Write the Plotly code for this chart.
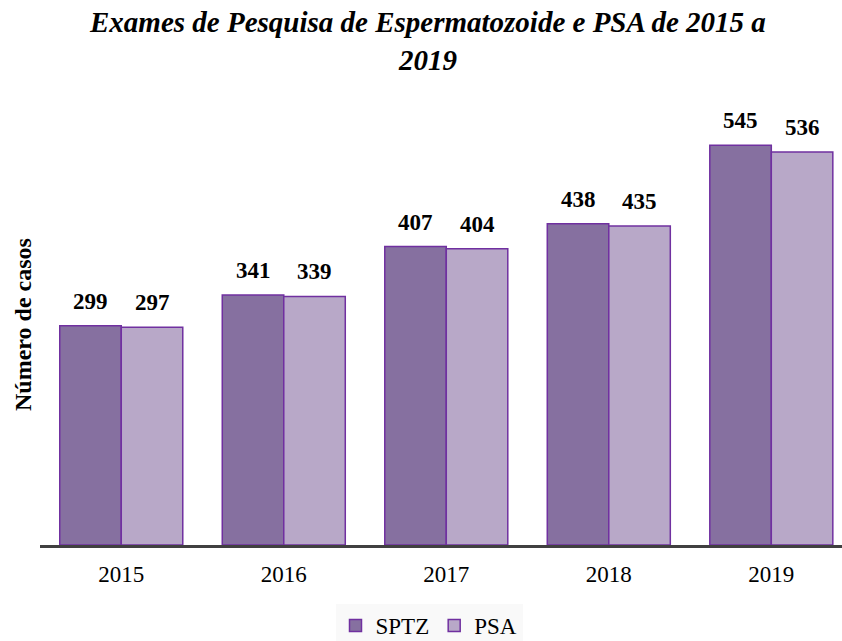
import plotly.graph_objects as go

years = ["2015", "2016", "2017", "2018", "2019"]
sptz = [299, 341, 407, 438, 545]
psa = [297, 339, 404, 435, 536]
series_names = ["SPTZ", "PSA"]

font_fam = "Liberation Serif, Times New Roman, serif"
outline = "#7030A0"
fill_colors = ["#8670A0", "#B8A8C8"]

fig = go.Figure()
for name, vals, col in zip(series_names, [sptz, psa], fill_colors):
    fig.add_trace(go.Bar(
        x=years, y=vals, name=name,
        marker=dict(color=col, line=dict(color=outline, width=1.5)),
    ))

# data labels above bars (category axes use the category index for annotations)
bar_px = 61.5
for j, vals in enumerate([sptz, psa]):
    shift = (-0.5 if j == 0 else 0.5) * bar_px
    for i, v in enumerate(vals):
        fig.add_annotation(
            x=i, y=v, xref="x", yref="y", text=f"<b>{v}</b>",
            showarrow=False, xshift=shift, yshift=10, yanchor="bottom",
            font=dict(family=font_fam, size=23, color="black"),
        )

# title
fig.add_annotation(
    xref="paper", yref="paper", x=(427 - 40) / 802, xanchor="center",
    y=1, yshift=101, yanchor="top",
    text="<b><i>Exames de Pesquisa de Espermatozoide e PSA de 2015 a<br>2019</i></b>",
    showarrow=False, font=dict(family=font_fam, size=29, color="black"),
)
# y-axis title
fig.add_annotation(
    xref="paper", yref="paper", x=0, xshift=-17, xanchor="center",
    y=(545 - 325) / 440, yanchor="middle", textangle=-90,
    text="<b>Número de casos</b>", showarrow=False,
    font=dict(family=font_fam, size=24, color="black"),
)

fig.update_layout(
    width=842, height=641,
    paper_bgcolor="white", plot_bgcolor="white",
    margin=dict(l=40, r=0, t=105, b=96, autoexpand=False),
    barmode="group", bargap=0.243, bargroupgap=0,
    font=dict(family=font_fam, size=23, color="black"),
    showlegend=True,
    legend=dict(
        orientation="h", xref="container", x=429 / 842, xanchor="center",
        yref="container", y=1 - 604 / 641, yanchor="top",
        bgcolor="#F9F9F9", font=dict(family=font_fam, size=23, color="black"),
        itemwidth=30, traceorder="normal",
    ),
    xaxis=dict(
        type="category", range=[-0.5, 4.435],
        showline=True, linecolor="#404040", linewidth=3,
        ticks="", tickfont=dict(family=font_fam, size=23, color="black"),
        ticklabelstandoff=6,
        showgrid=False, automargin=False,
    ),
    yaxis=dict(
        range=[0, 600], showticklabels=False, showgrid=False, zeroline=False,
        showline=False, ticks="", automargin=False,
    ),
)

fig.write_html("out.html", config={"displayModeBar": False},
               post_script="document.body.style.margin='0';")
